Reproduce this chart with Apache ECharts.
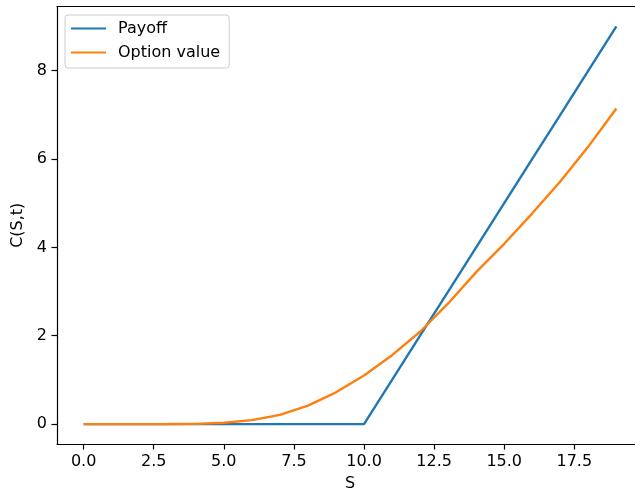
<!DOCTYPE html>
<html>
<head>
<meta charset="utf-8">
<script src="https://cdn.jsdelivr.net/npm/echarts@6/dist/echarts.min.js"></script>
<style>
  html, body { margin: 0; padding: 0; background: #fff; overflow: hidden; }
  #chart { width: 635px; height: 491px; }
</style>
</head>
<body>
<div id="chart"></div>
<script>
// Underlying price grid
const stockPrices = [0, 1, 2, 3, 4, 5, 6, 7, 8, 9, 10, 11, 12, 13, 14, 15, 16, 17, 18, 19];
// Call payoff at expiry (strike 10)
const payoff = [0, 0, 0, 0, 0, 0, 0, 0, 0, 0, 0, 1, 2, 3, 4, 5, 6, 7, 8, 9];
// Option value before expiry
const optionValue = [0, 0, 0, 0.001, 0.005, 0.03, 0.09, 0.21, 0.42, 0.72, 1.10, 1.56, 2.09, 2.73, 3.44, 4.08, 4.77, 5.49, 6.28, 7.14];

const xTicks = [0, 2.5, 5, 7.5, 10, 12.5, 15, 17.5];
const yTicks = [0, 2, 4, 6, 8];

const FONT = 'DejaVu Sans';
const FS = 16;
const X_MIN = -0.95, X_MAX = 19.95;

const toPairs = (xs, ys) => xs.map((x, i) => [x, ys[i]]);

// fresh style objects for each axis
const spine = () => ({ show: true, onZero: false, lineStyle: { color: '#000', width: 1.2 } });
const tick = (vals) => ({ show: true, inside: false, length: 5.5, customValues: vals, lineStyle: { color: '#000', width: 1.2 } });

const chart = echarts.init(document.getElementById('chart'), null, { renderer: 'canvas' });
chart.setOption({
  animation: false,
  backgroundColor: '#ffffff',
  textStyle: { fontFamily: FONT },
  grid: {
    left: 57, top: 6.5, bottom: 47, right: -8,
    containLabel: false, outerBoundsMode: 'none', show: false
  },
  legend: {
    orient: 'vertical',
    left: 65, top: 15,
    padding: [4, 9, 6, 6],
    itemGap: 5,
    itemWidth: 35, itemHeight: 2,
    icon: 'rect',
    backgroundColor: 'rgba(255,255,255,0.8)',
    borderColor: '#cccccc', borderWidth: 1, borderRadius: 3,
    textStyle: { fontFamily: FONT, fontSize: FS, color: '#000', lineHeight: 19, padding: [0, 0, 0, 7] },
    data: ['Payoff', 'Option value']
  },
  xAxis: [
    {
      type: 'value', min: X_MIN, max: X_MAX, position: 'bottom',
      name: 'S', nameLocation: 'middle', nameGap: 32,
      nameTextStyle: { fontFamily: FONT, fontSize: FS, color: '#000' },
      splitLine: { show: false },
      axisLine: spine(),
      axisTick: tick(xTicks),
      axisLabel: {
        margin: 10, fontFamily: FONT, fontSize: FS, color: '#000',
        customValues: xTicks, formatter: v => v.toFixed(1)
      }
    },
    {
      // top spine of the frame
      type: 'value', min: X_MIN, max: X_MAX, position: 'top',
      splitLine: { show: false }, axisLine: spine(),
      axisTick: { show: false }, axisLabel: { show: false }
    }
  ],
  yAxis: {
    type: 'value', min: -0.45, max: 9.45, position: 'left',
    name: 'C(S,t)', nameLocation: 'middle', nameGap: 27,
    nameTextStyle: { fontFamily: FONT, fontSize: FS, color: '#000' },
    splitLine: { show: false },
    axisLine: spine(),
    axisTick: tick(yTicks),
    axisLabel: {
      margin: 10, fontFamily: FONT, fontSize: FS, color: '#000',
      customValues: yTicks, formatter: v => String(v)
    }
  },
  series: [
    {
      name: 'Payoff', type: 'line', showSymbol: false, clip: false,
      data: toPairs(stockPrices, payoff),
      itemStyle: { color: '#1f77b4' },
      lineStyle: { color: '#1f77b4', width: 2.4 }
    },
    {
      name: 'Option value', type: 'line', showSymbol: false, clip: false,
      data: toPairs(stockPrices, optionValue),
      itemStyle: { color: '#ff7f0e' },
      lineStyle: { color: '#ff7f0e', width: 2.4 }
    }
  ]
});
</script>
</body>
</html>
